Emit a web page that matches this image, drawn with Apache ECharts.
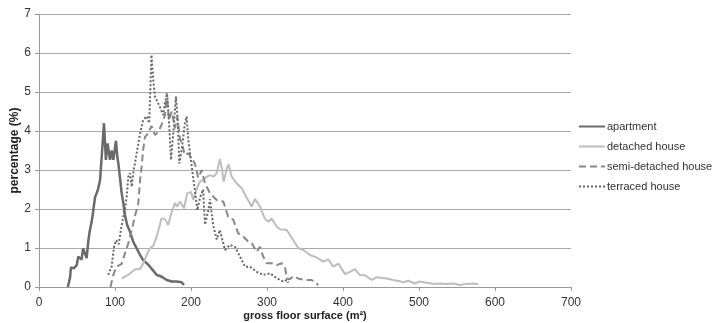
<!DOCTYPE html>
<html>
<head>
<meta charset="utf-8">
<script src="https://cdn.jsdelivr.net/npm/echarts@6/dist/echarts.min.js"></script>
<style>
  html, body { margin: 0; padding: 0; background: #fff; }
  #chart { width: 718px; height: 323px; }
</style>
</head>
<body>
<div id="chart"></div>
<script>
// values: [floor surface m², percentage]
const apartment = [
  [38, 0], [41, 0.26], [42, 0.5], [46, 0.48], [49.6, 0.56], [51.7, 0.78], [56, 0.7],
  [58, 0.99], [60, 0.95], [62.7, 0.74], [65, 1.2], [67, 1.46], [69.3, 1.67], [71, 1.9],
  [73.7, 2.3], [75.8, 2.4], [78, 2.53], [80.3, 2.74], [82.5, 3.34], [85.5, 4.2],
  [88, 3.26], [90.3, 3.68], [93.4, 3.26], [95.6, 3.5], [97.8, 3.26], [101.3, 3.75],
  [103, 3.34], [104.4, 3.17], [106.6, 2.79], [108.8, 2.4], [111, 2.15], [113, 1.85],
  [116, 1.59], [119.7, 1.42], [124, 1.16], [128.5, 0.99], [133, 0.82], [137, 0.69],
  [141.7, 0.61], [146, 0.52], [150.4, 0.42], [154.8, 0.31], [161, 0.27], [168, 0.18],
  [174.6, 0.14], [181, 0.14], [187.7, 0.12], [190.8, 0.05]
];
const detached = [
  [108.8, 0.22], [117.5, 0.31], [126, 0.45], [133, 0.46], [137, 0.6], [141.7, 0.82],
  [146, 0.99], [150.4, 1.06], [154.8, 1.29], [159, 1.59], [161, 1.76], [165.8, 1.74],
  [170, 1.59], [174.6, 1.93], [179, 2.15], [182, 2.06], [185.5, 2.19], [190.8, 2.02],
  [195, 2.4], [200, 2.44], [203, 2.23], [207.5, 2.53], [212, 2.7], [218, 2.79],
  [225, 2.87], [230, 2.83], [233.8, 2.92], [238, 3.28], [241, 3.0], [243, 2.7],
  [247, 3.04], [249.5, 3.14], [253.5, 2.83], [260, 2.66], [266.7, 2.53], [273, 2.3],
  [280, 2.06], [284, 2.26], [290.8, 2.06], [297, 1.76], [301.7, 1.67], [306, 1.76],
  [312.7, 1.55], [317, 1.48], [326, 1.46], [334.6, 1.2], [341, 1.0], [347.8, 0.95],
  [356.6, 0.82], [365, 0.76], [374, 0.65], [380.7, 0.71], [387, 0.52], [394, 0.6],
  [402.6, 0.33], [409, 0.39], [415.8, 0.46], [422, 0.31], [429, 0.3], [437.8, 0.18],
  [444, 0.25], [457.5, 0.22], [466, 0.18], [475, 0.15], [479, 0.12], [486, 0.16],
  [494.7, 0.09], [501, 0.14], [510, 0.11], [519, 0.08], [527.6, 0.09], [536, 0.08],
  [545, 0.09], [554, 0.05], [563, 0.08], [571.5, 0.09], [578, 0.07]
];
const semiDetached = [
  [94, 0], [97.8, 0.31], [102, 0.52], [108.8, 0.59], [113, 0.86], [117.5, 1.12],
  [122, 1.46], [126, 1.8], [130.7, 2.15], [133, 2.74], [135, 3.08], [137, 3.51],
  [139.5, 3.85], [143.8, 3.94], [148, 4.13], [152.6, 3.9], [157, 3.98], [161, 4.15],
  [165.8, 4.41], [168, 4.97], [171, 4.28], [174.6, 4.5], [179, 4.07], [182, 4.37],
  [185.5, 3.81], [189, 3.6], [192, 3.38], [196.5, 3.43], [201, 3.3], [205, 3.17],
  [209.6, 2.8], [214, 3.0], [218.4, 2.66], [225, 2.4], [233.8, 2.23], [242.5, 2.19],
  [249, 1.8], [255.7, 1.72], [262, 1.38], [269, 1.29], [275.4, 1.16], [280, 1.12],
  [286.4, 0.9], [290.8, 1.03], [295, 0.78], [299.6, 0.61], [306, 0.61], [312.7, 0.56],
  [319, 0.61], [323.7, 0.52], [326, 0.22], [330, 0.2], [334.6, 0.28], [341, 0.22],
  [350, 0.18], [358.8, 0.18], [365.4, 0.09], [367.5, 0.05]
];
const terraced = [
  [91, 0.31], [95.6, 0.52], [98.7, 1.03], [101.3, 1.2], [105, 1.1], [108, 1.5],
  [111, 1.8], [113, 1.97], [115.4, 2.32], [117.5, 2.83], [119.7, 2.92], [122, 2.57],
  [124, 2.92], [128.5, 3.43], [133, 3.94], [137, 4.28], [141.7, 4.38], [145, 4.2],
  [148, 5.95], [150.4, 5.3], [152.6, 4.88], [159, 4.62], [163.6, 4.41], [165.8, 4.75],
  [168.8, 4.92], [171.4, 4.11], [173.7, 3.26], [176.7, 3.94], [180.2, 4.88],
  [182.5, 4.28], [184.6, 3.17], [187.7, 3.51], [192, 4.2], [194.3, 4.37], [196.5, 3.77],
  [201, 3.08], [205, 2.49], [208.3, 1.97], [212, 2.3], [216, 2.5], [218.4, 1.6],
  [220.7, 1.55], [222.8, 1.97], [225, 2.25], [229, 1.6], [233.8, 1.22], [238, 1.46],
  [244.7, 0.95], [251, 1.08], [257.9, 1.03], [264.5, 0.78], [271, 0.52], [277.6, 0.52],
  [286.4, 0.39], [295, 0.31], [304, 0.35], [310.5, 0.26], [317, 0.18], [321.5, 0.14],
  [326, 0.18], [328, 0.11]
];
const seriesNames = ['apartment', 'detached house', 'semi-detached house', 'terraced house'];

const chart = echarts.init(document.getElementById('chart'));
const font = 'Liberation Sans, Arial, sans-serif';

function lineSeries(name, data, color, width, type) {
  return {
    name: name,
    type: 'line',
    data: data,
    symbol: 'none',
    smooth: false,
    lineStyle: { color: color, width: width, type: type },
    itemStyle: { color: color }
  };
}

chart.setOption({
  animation: false,
  textStyle: { fontFamily: font },
  grid: { left: 39, right: 147, top: 14, bottom: 36, outerBoundsMode: 'none', containLabel: false },
  legend: {
    orient: 'vertical',
    left: 578,
    top: 121,
    padding: 0,
    itemWidth: 26,
    itemHeight: 10,
    itemGap: 9,
    itemStyle: { opacity: 0 },
    textStyle: { fontSize: 11, color: '#333', fontFamily: font, padding: [0, 0, 0, -3] },
    data: seriesNames
  },
  xAxis: {
    type: 'value',
    min: 0,
    max: 700,
    interval: 100,
    name: 'gross floor surface (m²)',
    nameLocation: 'middle',
    nameGap: 23,
    nameMoveOverlap: false,
    nameTextStyle: { fontWeight: 'bold', fontSize: 11, color: '#222' },
    axisLine: { lineStyle: { color: '#999' } },
    axisTick: { show: true, length: 4, lineStyle: { color: '#999' } },
    axisLabel: { fontSize: 12, color: '#333', margin: 10 },
    splitLine: { show: false }
  },
  yAxis: {
    type: 'value',
    min: 0,
    max: 7,
    interval: 1,
    name: 'percentage (%)',
    nameLocation: 'middle',
    nameGap: 18,
    nameMoveOverlap: false,
    nameTextStyle: { fontWeight: 'bold', fontSize: 12, color: '#222' },
    axisLine: { show: true, lineStyle: { color: '#999' } },
    axisTick: { show: true, length: 4, lineStyle: { color: '#999' } },
    axisLabel: { fontSize: 12, color: '#333', margin: 8 },
    splitLine: { lineStyle: { color: '#aaa', width: 1 } }
  },
  series: [
    lineSeries('apartment', apartment, '#6a6a6a', 2.5, 'solid'),
    lineSeries('detached house', detached, '#bdbdbd', 2, 'solid'),
    lineSeries('semi-detached house', semiDetached, '#888888', 2, [7, 4]),
    lineSeries('terraced house', terraced, '#666666', 2, [2, 2])
  ]
});
</script>
</body>
</html>
